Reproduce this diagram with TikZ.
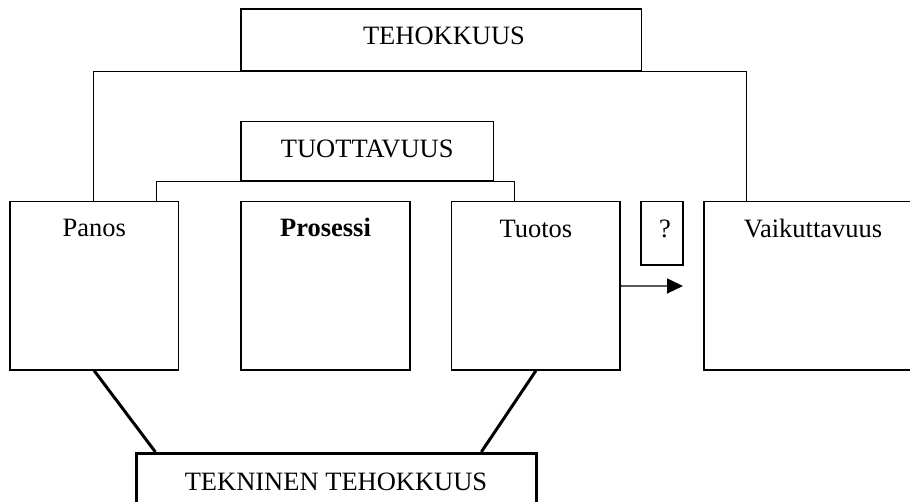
\documentclass[tikz,border=0pt]{standalone}
\usepackage{fontspec}
\setmainfont{Liberation Serif}
\usetikzlibrary{arrows.meta,calc}
\begin{document}
\begin{tikzpicture}[x=1pt,y=-1pt,
  box/.style={draw,line width=1.3pt,rectangle,inner sep=0pt},
  thickbox/.style={draw,line width=2.7pt,rectangle,inner sep=0pt},
  lbl/.style={anchor=base,inner sep=0pt,font=\fontsize{26.5}{32}\selectfont},
  conn/.style={line width=1.3pt},
  thickconn/.style={line width=3pt}]
\useasboundingbox (0,0) rectangle (910,502);
\clip (0,0) rectangle (910,502);
% boxes
\node[box,minimum width=400.7pt,minimum height=62pt] (teh) at (441.3,40) {};
\node[box,minimum width=252.3pt,minimum height=59.3pt] (tuot) at (367.2,151.3) {};
\node[box,minimum width=168.3pt,minimum height=168.3pt] (panos) at (94.2,285.9) {};
\node[box,minimum width=169pt,minimum height=168.3pt] (pros) at (325.5,285.9) {};
\node[box,minimum width=168.3pt,minimum height=168.3pt] (tuotos) at (535.9,285.9) {};
\node[box,minimum width=42pt,minimum height=63.3pt] (q) at (662,233.4) {};
\node[box,minimum width=216pt,minimum height=168.3pt] (vaik) at (812,285.9) {};
\node[thickbox,minimum width=400pt,minimum height=62pt] (tek) at (336.7,484.3) {};
% texts
\node[lbl] (tehT) at (444,44.3) {TEHOKKUUS};
\node[lbl] (tuotT) at (367.2,158) {TUOTTAVUUS};
\node[lbl] (panosT) at (94.2,237) {Panos};
\node[lbl] (prosT) at (325.5,237) {\bfseries Prosessi};
\node[lbl] (tuotosT) at (535.9,237.5) {Tuotos};
\node[lbl] (qT) at (665,237.5) {?};
\node[lbl] (vaikT) at (813,237.5) {Vaikuttavuus};
\node[lbl] (tekT) at (336,490) {TEKNINEN TEHOKKUUS};
% brackets
\draw[conn] ($(panos.north west)+(84,0)$) |- (teh.south) -| ($(vaik.north west)+(43,0)$);
\draw[conn] ($(panos.north west)+(147,0)$) |- (tuot.south) -| ($(tuotos.north west)+(63.3,0)$);
% arrow
\coordinate (arrowend) at (683,286);
\draw[conn,-{Triangle[length=16pt,width=15pt]}] (tuotos.east) -- (arrowend);
% diagonals
\draw[thickconn] (panos.south) -- ($(tek.north west)+(20,0)$);
\draw[thickconn] (tuotos.south) -- ($(tek.north east)+(-56.7,0)$);
\end{tikzpicture}
\end{document}
